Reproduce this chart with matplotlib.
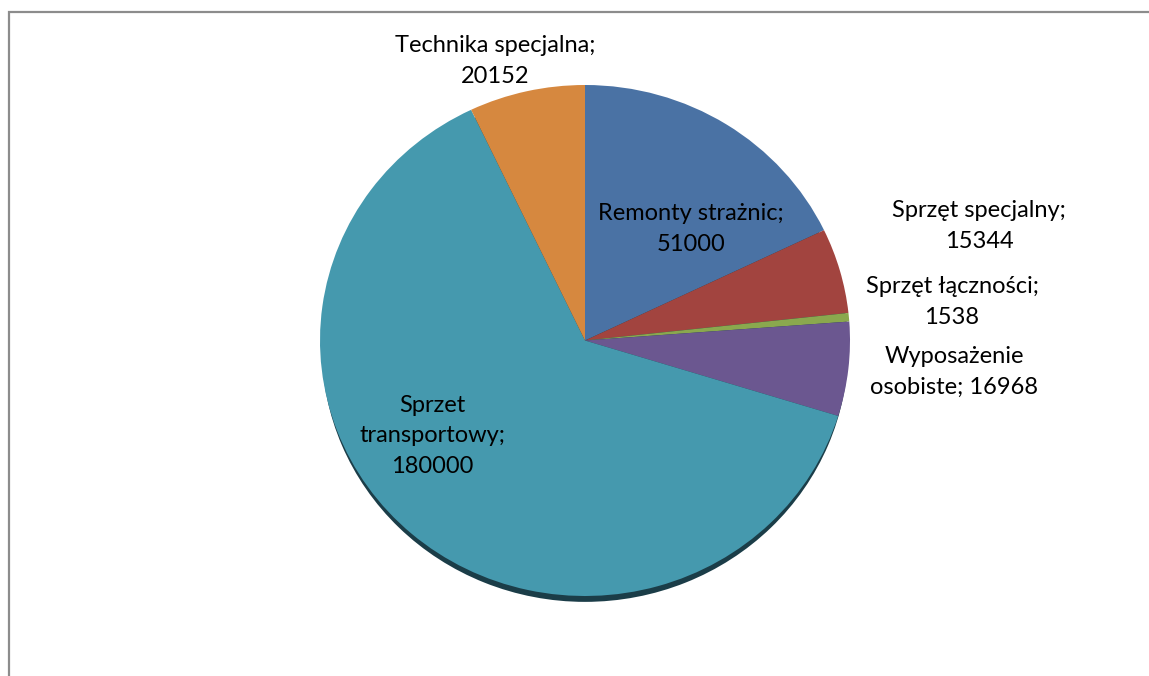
import matplotlib
matplotlib.use("Agg")
import matplotlib.pyplot as plt
from matplotlib.patches import Rectangle

categories = ["Remonty strażnic", "Sprzęt specjalny", "Sprzęt łączności",
              "Wyposażenie\nosobiste", "Sprzet\ntransportowy", "Technika specjalna"]
values = [51000, 15344, 1538, 16968, 180000, 20152]
colors = ["#4a72a4", "#a2443f", "#8aa84e", "#6b5790", "#4599ae", "#d6883f"]

W, H = 1149, 676
fig = plt.figure(figsize=(W / 100, H / 100), dpi=100)
fig.patch.set_facecolor("white")

# outer frame
fig.patches.append(Rectangle((9 / W, -0.1), 1.2, (H - 12) / H + 0.1, transform=fig.transFigure,
                             fill=False, edgecolor="#8c8c8c", linewidth=1.6))

# pie axes (ellipse via non-equal aspect)
x0, x1, y0, y1 = 320, 850, 85, 596
ax = fig.add_axes([x0 / W, 1 - y1 / H, (x1 - x0) / W, (y1 - y0) / H])
ax.axis("off")

# shadow
ax.pie([sum(values)], colors=["#1b3d48"], radius=0.993, center=(0, -0.03),
       wedgeprops=dict(linewidth=0), frame=False)
ax.pie(values, colors=colors, startangle=90, counterclock=False, radius=1.0,
       center=(0, 0), wedgeprops=dict(linewidth=0), frame=False)
ax.set_xlim(-1, 1)
ax.set_ylim(-1, 1)
ax.set_aspect("auto")
for p in ax.patches:
    p.set_clip_on(False)

label_pos = [(691, 229), (979, 226), (952, 302), (954, 372), (432, 436), (495, 61)]
fmt = ["{};\n{}", "{};\n{}", "{};\n{}", "{}; {}", "{};\n{}", "{};\n{}"]
for cat, v, (px, py), f in zip(categories, values, label_pos, fmt):
    fig.text(px / W, 1 - py / H, f.format(cat, v), ha="center", va="center",
             fontsize=17, family=["Lato", "DejaVu Sans"], linespacing=1.55, color="black")

fig.savefig("out.png", dpi=100, facecolor="white")
